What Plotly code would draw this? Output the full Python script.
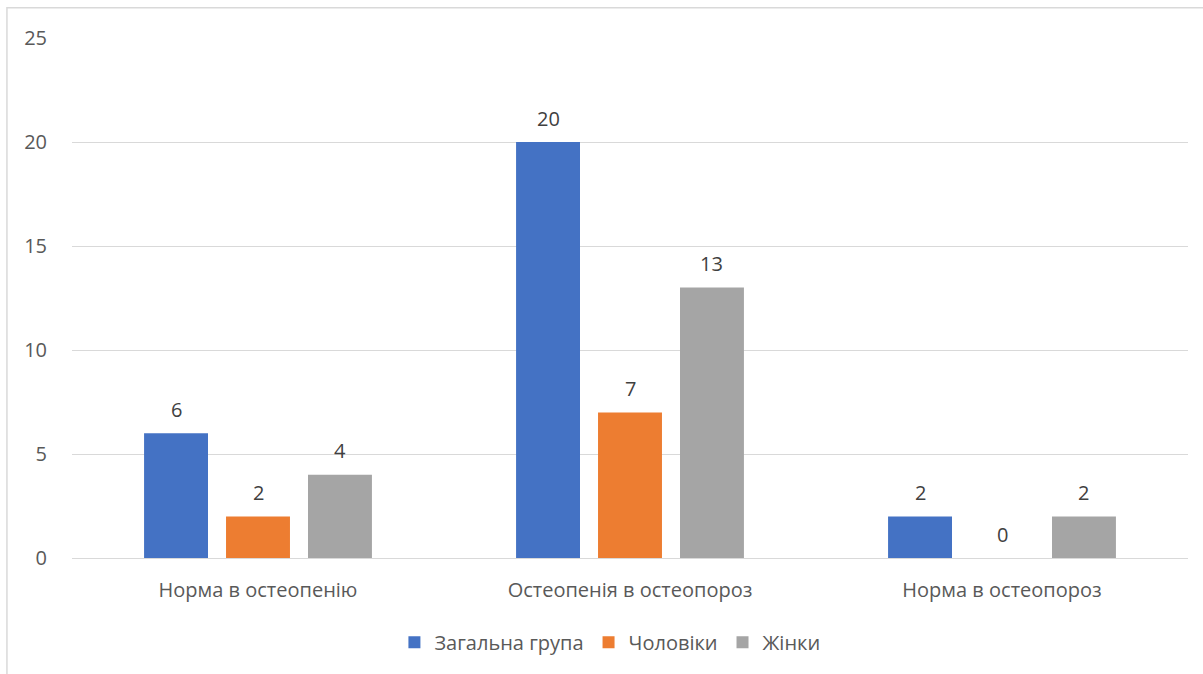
import plotly.graph_objects as go

categories = ["Норма в остеопенію", "Остеопенія в остеопороз", "Норма в остеопороз"]
series_names = ["Загальна група", "Чоловіки", "Жінки"]
total_group = [6, 20, 2]
men = [2, 7, 0]
women = [4, 13, 2]
colors = ["#4472C4", "#ED7D31", "#A5A5A5"]
y_ticks = [0, 5, 10, 15, 20, 25]

FONT = "Open Sans, Noto Sans, sans-serif"
W, H = 1203, 674
ML, MR, MT, MB = 72, 15, 38, 116
BARGAP, GROUPGAP = 0.339, 0.22

fig = go.Figure()
all_series = [total_group, men, women]
for name, vals, col in zip(series_names, all_series, colors):
    fig.add_trace(go.Bar(
        x=categories, y=vals, name=name,
        marker=dict(color=col, line=dict(width=0)),
    ))

# value labels above each bar, offset within the group by one bar slot
slot_px = (W - ML - MR) / len(categories) * (1 - BARGAP) / len(all_series)
annotations = []
for si, vals in enumerate(all_series):
    for cat, v in zip(categories, vals):
        annotations.append(dict(
            x=cat, y=v, xref="x", yref="y", text=str(v), showarrow=False,
            xshift=(si - 1) * slot_px, yshift=24, yanchor="middle",
            font=dict(size=20, color="#404040", family=FONT),
        ))

fig.update_layout(
    width=W, height=H,
    margin=dict(l=ML, r=MR, t=MT, b=MB),
    paper_bgcolor="white", plot_bgcolor="white",
    barmode="group", bargap=BARGAP, bargroupgap=GROUPGAP,
    font=dict(family=FONT, size=20, color="#595959"),
    showlegend=True,
    legend=dict(orientation="h", xref="container", x=0.507, xanchor="center",
                yref="container", y=0.047, yanchor="middle",
                font=dict(size=20, color="#595959"), itemwidth=30,
                traceorder="normal"),
    xaxis=dict(showgrid=False, showline=False, ticks="", ticklabelstandoff=18,
               tickfont=dict(size=20, color="#595959")),
    yaxis=dict(range=[0, 25], tickvals=y_ticks, showgrid=True, gridcolor="#D9D9D9",
               gridwidth=1, zeroline=True, zerolinecolor="#D9D9D9", zerolinewidth=1,
               showline=False, ticks="", ticklabelstandoff=24,
               tickfont=dict(size=20, color="#595959")),
    annotations=annotations,
    shapes=[dict(type="rect", xref="paper", yref="paper", x0=-0.0583, x1=1.05, y0=-0.5, y1=1.058,
                 line=dict(color="#D9D9D9", width=1.5), fillcolor="rgba(0,0,0,0)", layer="below")],
)

fig.write_html("out.html")
